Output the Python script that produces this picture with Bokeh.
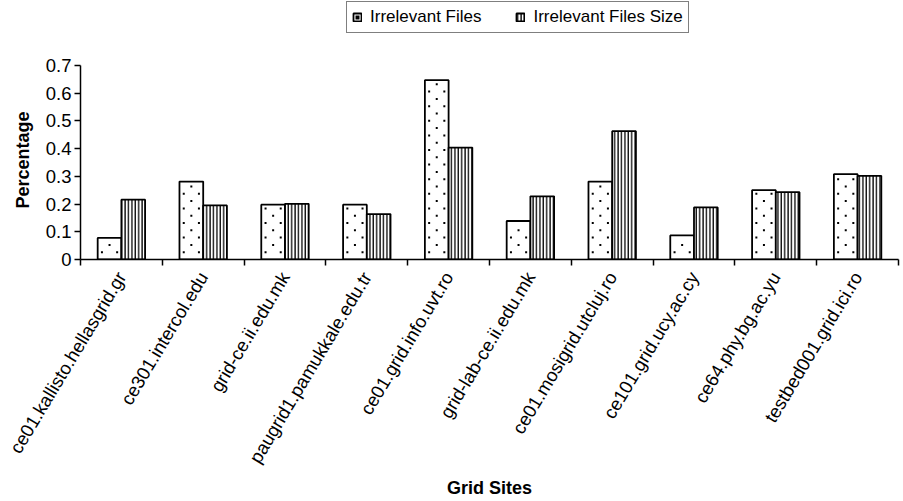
import numpy as np
from bokeh.plotting import figure
from bokeh.models import (ColumnDataSource, Range1d, FixedTicker, CustomJSTickFormatter,
                          Legend, LegendItem, Title)
from bokeh.transform import dodge
from bokeh.embed import file_html
from bokeh.resources import INLINE

sites = ["ce01.kallisto.hellasgrid.gr", "ce301.intercol.edu", "grid-ce.ii.edu.mk",
         "paugrid1.pamukkale.edu.tr", "ce01.grid.info.uvt.ro", "grid-lab-ce.ii.edu.mk",
         "ce01.mosigrid.utcluj.ro", "ce101.grid.ucy.ac.cy", "ce64.phy.bg.ac.yu",
         "testbed001.grid.ici.ro"]
irrelevant_files = [0.078, 0.281, 0.198, 0.198, 0.647, 0.139, 0.281, 0.087, 0.250, 0.308]
irrelevant_files_size = [0.216, 0.195, 0.201, 0.164, 0.404, 0.228, 0.463, 0.188, 0.243, 0.302]
y_ticks = [0, 0.1, 0.2, 0.3, 0.4, 0.5, 0.6, 0.7]
series_names = ["Irrelevant Files", "Irrelevant Files Size"]
x_title = "Grid Sites"
y_title = "Percentage"

FONT = "Liberation Sans"
TICK_FS = "18.5px"
TITLE_FS = "18px"
LEG_FS = "17px"

# layout (pixels)
W, H = 903, 501
LEFT, RIGHT, BOTTOM = 80, 5, 242
AXIS_PX = 194          # pixel height of the 0..0.7 axis
FRAME_H = H - BOTTOM   # frame reaches the top so the legend can sit above the axis

n = len(sites)
centers = [i + 0.5 for i in range(n)]
src = ColumnDataSource(dict(x=centers, a=irrelevant_files, b=irrelevant_files_size))

y_top = y_ticks[-1]
p = figure(width=W, height=H, output_backend="svg", toolbar_location=None,
           x_range=Range1d(0, n), y_range=Range1d(0, y_top * FRAME_H / AXIS_PX),
           min_border_left=LEFT, min_border_right=RIGHT, min_border_top=0,
           min_border_bottom=BOTTOM)
p.outline_line_color = None
p.xgrid.visible = False
p.ygrid.visible = False
p.background_fill_color = "white"
p.border_fill_color = "white"

bw = 0.29
r1 = p.vbar(x=dodge("x", -bw / 2, range=p.x_range), top="a", width=bw, source=src,
            fill_color="white", line_color="black", line_width=1.8)
r2 = p.vbar(x=dodge("x", bw / 2, range=p.x_range), top="b", width=bw, source=src,
            fill_color="white", line_color="black", line_width=1.8,
            hatch_pattern="|", hatch_scale=3.4, hatch_color="black", hatch_weight=1.3)

# dotted fill pattern of the "Irrelevant Files" bars (staggered dot lattice inside each bar)
dot_step = y_top * 7.3 / AXIS_PX   # ~7.3 px between dot rows
dx, dy = [], []
for c, v in zip(centers, irrelevant_files):
    left = c - bw
    k = 1
    while k * dot_step <= v - dot_step * 0.35:
        fracs = (0.18, 0.82) if k % 2 else (0.5,)
        for f in fracs:
            dx.append(left + f * bw)
            dy.append(k * dot_step)
        k += 1
rdots = p.scatter(x=np.array(dx), y=np.array(dy), marker="square", size=2.0,
                  color="black", line_width=0)

# x axis
xa = p.xaxis[0]
xa.ticker = FixedTicker(ticks=centers, minor_ticks=list(range(n + 1)))
xa.formatter = CustomJSTickFormatter(args=dict(labels=sites),
                                     code="return labels[Math.floor(tick)];")
xa.major_tick_line_color = None
xa.minor_tick_line_color = "black"
xa.minor_tick_out = 6
xa.minor_tick_in = 0
xa.minor_tick_line_width = 1.5
xa.axis_line_color = "black"
xa.axis_line_width = 1.5
xa.major_label_orientation = 1.03
xa.major_label_text_font = FONT
xa.major_label_text_font_size = TICK_FS
xa.major_label_text_color = "black"
xa.major_label_standoff = 8
xa.axis_label = x_title
xa.axis_label_text_font = FONT
xa.axis_label_text_font_size = TITLE_FS
xa.axis_label_text_font_style = "bold"
xa.axis_label_text_color = "black"
xa.axis_label_standoff = 3

# y axis
ya = p.yaxis[0]
ya.bounds = (0, y_top)
ya.ticker = FixedTicker(ticks=y_ticks)
ya.formatter = CustomJSTickFormatter(code="return tick === 0 ? '0' : tick.toFixed(1);")
ya.major_tick_out = 6
ya.major_tick_in = 0
ya.major_tick_line_width = 1.5
ya.minor_tick_line_color = None
ya.axis_line_color = "black"
ya.axis_line_width = 1.5
ya.major_label_text_font = FONT
ya.major_label_text_font_size = TICK_FS
ya.major_label_text_color = "black"
ya.major_label_standoff = 3

ytitle = Title(text=y_title, align="left", offset=51, standoff=20,
               text_font=FONT, text_font_size=TITLE_FS, text_font_style="bold",
               text_color="black")
p.add_layout(ytitle, "left")

legend = Legend(items=[LegendItem(label=series_names[0], renderers=[r1, rdots]),
                       LegendItem(label=series_names[1], renderers=[r2])],
                orientation="horizontal", location=(266, 226),
                glyph_width=10, glyph_height=10, label_standoff=8, spacing=34,
                padding=5, margin=0, border_line_color="black", border_line_width=1.5,
                label_text_font=FONT, label_text_font_size=LEG_FS, label_text_color="black",
                background_fill_alpha=1.0)
p.add_layout(legend, "center")

open("out.html", "w").write(file_html(p, INLINE))
